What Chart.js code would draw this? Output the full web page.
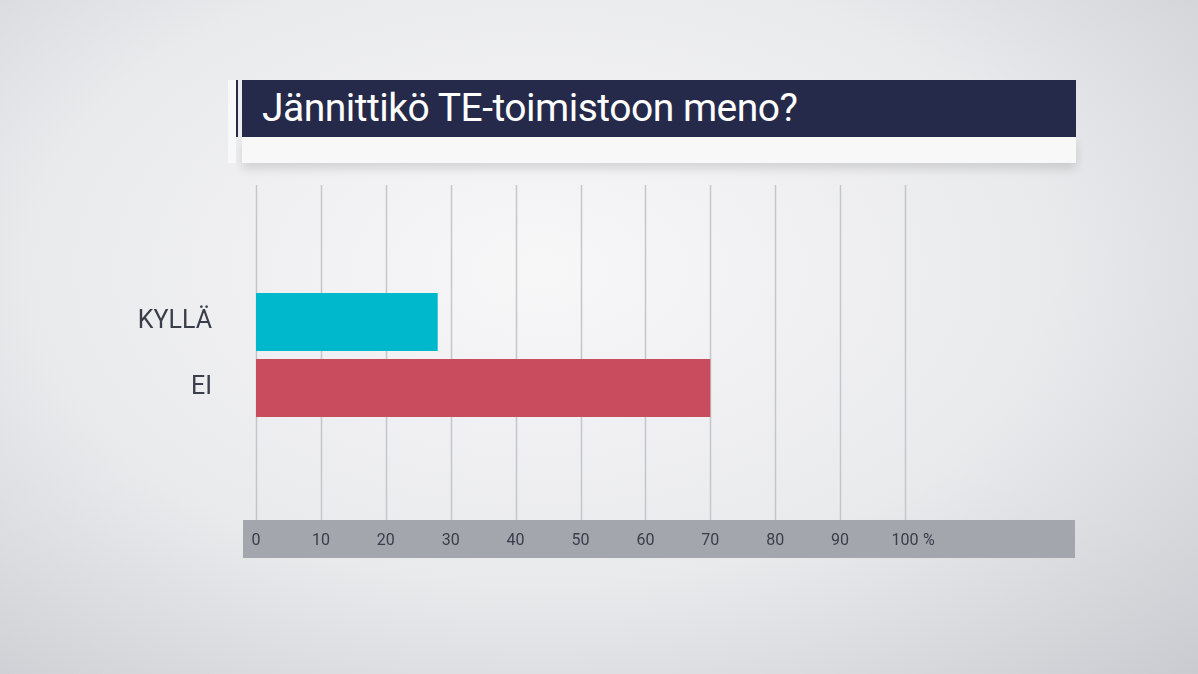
<!DOCTYPE html>
<html><head><meta charset="utf-8">
<script src="https://cdn.jsdelivr.net/npm/chart.js@4"></script>
<style>
 body{margin:0;width:1198px;height:674px;overflow:hidden;
   background:radial-gradient(ellipse at 45% 40%,#f7f7f8 0%,#e9eaec 55%,#c9cbd0 100%);
   font-family:Roboto,sans-serif;}
 #title{position:absolute;left:242px;top:80px;width:834px;height:57px;background:#262a4a;color:#fff;
   font-size:39px;line-height:57px;padding-left:20px;box-sizing:border-box;letter-spacing:-0.5px;}
 #strip{position:absolute;left:242px;top:137px;width:834px;height:26px;background:#f8f8f8;box-shadow:0 6px 10px rgba(0,0,0,0.12);}
 #acc1{position:absolute;left:228px;top:80px;width:8px;height:83px;background:#f8f8f8;}
 #acc2{position:absolute;left:236px;top:80px;width:2px;height:57px;background:#262a4a;}
 #band{position:absolute;left:243px;top:520px;width:832px;height:38px;background:#a3a6ad;}
 canvas{position:absolute;left:0;top:0;}
</style></head><body>
<div id="acc1"></div><div id="acc2"></div>
<div id="title">Jännittikö TE-toimistoon meno?</div><div id="strip"></div>
<div id="band"></div>
<canvas id="c" width="1198" height="674"></canvas>
<script>
const categories = ['KYLLÄ', 'EI'];
const values = [28, 70];
const barColors = ['#00b8cc', '#c84b5e'];
const tickValues = [0, 10, 20, 30, 40, 50, 60, 70, 80, 90, 100];

// grid lines and tick labels drawn through the x scale
const gridPlugin = {
  id: 'grid',
  beforeDatasetsDraw(chart) {
    const ctx = chart.ctx, x = chart.scales.x;
    ctx.save();
    ctx.strokeStyle = '#c4c6cb';
    ctx.lineWidth = 1.5;
    tickValues.forEach(v => {
      const px = Math.round(x.getPixelForValue(v)) + 0.5;
      ctx.beginPath(); ctx.moveTo(px, 185); ctx.lineTo(px, 520); ctx.stroke();
    });
    ctx.fillStyle = '#3a3d4a';
    ctx.font = '16px Roboto, sans-serif';
    ctx.textBaseline = 'middle';
    tickValues.forEach(v => {
      const px = x.getPixelForValue(v);
      ctx.textAlign = 'center';
      ctx.fillText(String(v), px, 541);
      if (v === 100) { ctx.textAlign = 'left'; ctx.fillText('%', px + 18, 541); }
    });
    ctx.restore();
  }
};

new Chart(document.getElementById('c'), {
  type: 'bar',
  data: {
    labels: categories,
    datasets: [{ data: values, backgroundColor: barColors, barPercentage: 0.88, categoryPercentage: 1 }]
  },
  options: {
    indexAxis: 'y',
    responsive: false,
    animation: false,
    layout: { padding: { left: 0, right: 293, top: 289, bottom: 253 } },
    plugins: { legend: { display: false }, tooltip: { enabled: false } },
    scales: {
      x: { min: 0, max: 100, display: false },
      y: {
        grid: { display: false }, border: { display: false },
        afterFit: s => { s.width = 256; },
        ticks: { padding: 36, color: '#3a3d4a', font: { family: 'Roboto', size: 25 } }
      }
    }
  },
  plugins: [gridPlugin]
});
</script>
</body></html>
